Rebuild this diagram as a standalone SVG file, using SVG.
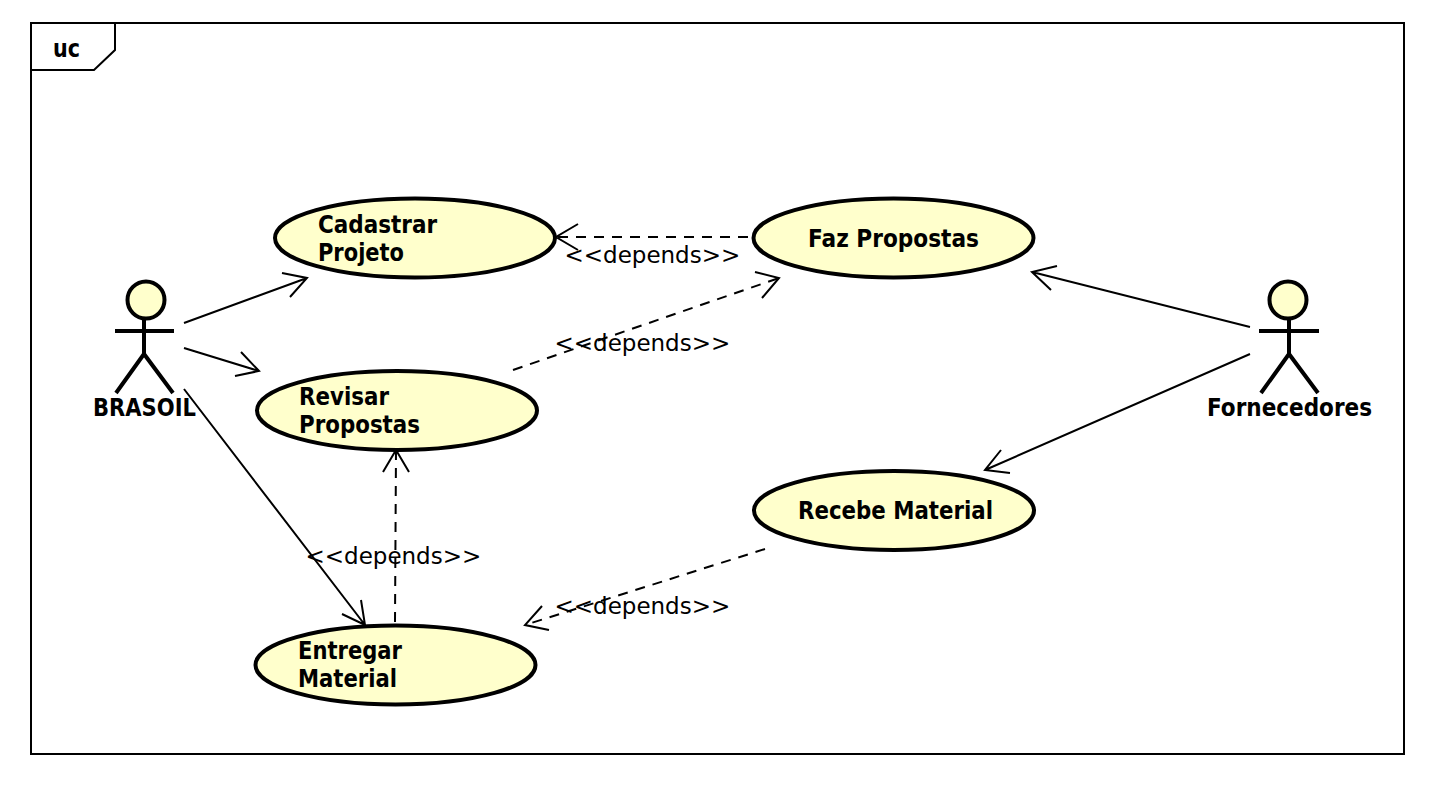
<svg xmlns="http://www.w3.org/2000/svg" width="1446" height="794" viewBox="0 0 1446 794">
<style>
text{font-family:"DejaVu Sans","Liberation Sans",sans-serif;fill:#000}
.b{font-weight:bold;font-size:24px}
.d{font-size:23px}
.uc{fill:#ffffcc;stroke:#000;stroke-width:4}
.a{fill:none;stroke:#000;stroke-width:2}
.ds{stroke-dasharray:10 8}
.act{fill:none;stroke:#000;stroke-width:4}
.head{fill:#ffffcc;stroke:#000;stroke-width:4}
</style>
<rect width="1446" height="794" fill="#fff"/>
<g id="frame">
<rect x="31" y="23" width="1373" height="731" fill="#fff" stroke="#000" stroke-width="2"/>
<path d="M115 23V50L94 70H31" fill="none" stroke="#000" stroke-width="2"/>
<text class="b" x="53" y="57" textLength="27" lengthAdjust="spacingAndGlyphs">uc</text>
</g>
<g id="connectors">
<path class="a" d="M184 323L307 278M282 273L307 278L290 297"/>
<path class="a" d="M184 348L259 371M241 352L259 371L235 376"/>
<path class="a" d="M184 389L365 625M361 600L365 625L342 614"/>
<path class="a" d="M1250 327L1032 272M1057 266L1032 272L1051 290"/>
<path class="a" d="M1250 354L985 470M1001 450L985 470L1010 473"/>
<path class="a ds" d="M748 237L556 237"/><path class="a" d="M578 224L556 237L578 250"/>
<path class="a ds" d="M513 370L779 278"/><path class="a" d="M755 272L779 278L762 298"/>
<path class="a ds" d="M395 622L396 450"/><path class="a" d="M383 472L396 450L409 472"/>
<path class="a ds" d="M765 549L525 625"/><path class="a" d="M542 606L525 625L549 630"/>
<text class="d" x="564.5" y="263">&lt;&lt;depends&gt;&gt;</text>
<text class="d" x="554.5" y="351">&lt;&lt;depends&gt;&gt;</text>
<text class="d" x="305.5" y="564">&lt;&lt;depends&gt;&gt;</text>
<text class="d" x="554.5" y="614">&lt;&lt;depends&gt;&gt;</text>
</g>
<g id="cadastrar">
<ellipse class="uc" cx="415" cy="238" rx="140" ry="39.5"/>
<text class="b" x="318" y="233" textLength="119" lengthAdjust="spacingAndGlyphs">Cadastrar</text>
<text class="b" x="318" y="261" textLength="86" lengthAdjust="spacingAndGlyphs">Projeto</text>
</g>
<g id="revisar">
<ellipse class="uc" cx="397" cy="410.5" rx="140" ry="39.5"/>
<text class="b" x="299" y="405" textLength="90" lengthAdjust="spacingAndGlyphs">Revisar</text>
<text class="b" x="299" y="433" textLength="121" lengthAdjust="spacingAndGlyphs">Propostas</text>
</g>
<g id="entregar">
<ellipse class="uc" cx="395.5" cy="665" rx="140" ry="39.5"/>
<text class="b" x="298" y="659" textLength="104" lengthAdjust="spacingAndGlyphs">Entregar</text>
<text class="b" x="298" y="687" textLength="99" lengthAdjust="spacingAndGlyphs">Material</text>
</g>
<g id="faz">
<ellipse class="uc" cx="893.5" cy="238" rx="140" ry="39.5"/>
<text class="b" x="808" y="247" textLength="171" lengthAdjust="spacingAndGlyphs">Faz Propostas</text>
</g>
<g id="recebe">
<ellipse class="uc" cx="894" cy="510.5" rx="140" ry="39.5"/>
<text class="b" x="798" y="519" textLength="195" lengthAdjust="spacingAndGlyphs">Recebe Material</text>
</g>
<g id="brasoil">
<circle class="head" cx="146" cy="300" r="18.5"/>
<path class="act" d="M115 331H174M144 319V354M116 393L144 354L173 393"/>
<text class="b" x="93" y="416" textLength="103" lengthAdjust="spacingAndGlyphs">BRASOIL</text>
</g>
<g id="fornecedores">
<circle class="head" cx="1288" cy="300" r="18.5"/>
<path class="act" d="M1259 331H1319M1289 319V354M1261 393L1289 354L1318 393"/>
<text class="b" x="1207" y="416" textLength="165" lengthAdjust="spacingAndGlyphs">Fornecedores</text>
</g>
</svg>
